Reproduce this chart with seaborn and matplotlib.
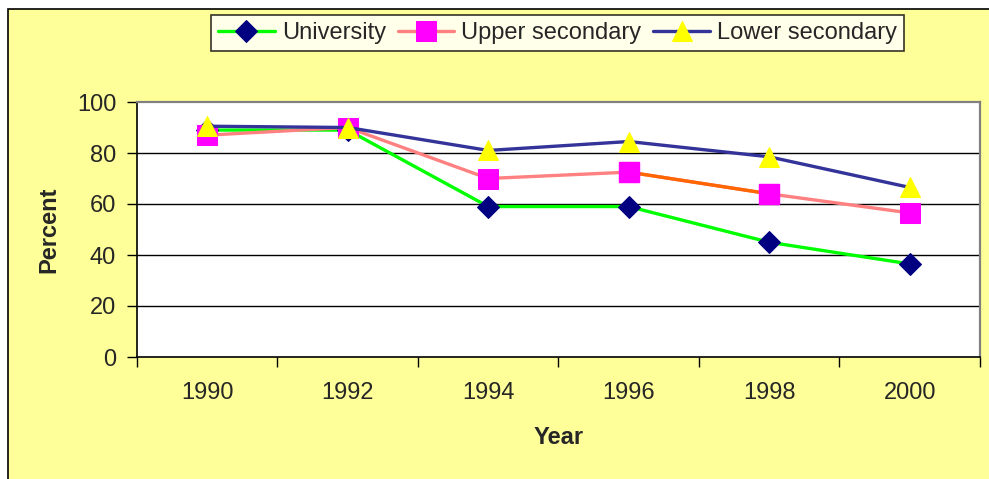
import numpy as np
import pandas as pd
import matplotlib
matplotlib.use("Agg")
import matplotlib.pyplot as plt
from matplotlib.patches import Rectangle
import seaborn as sns

# data
years = [1990, 1992, 1994, 1996, 1998, 2000]
university = [89, 89, 59, 59, 45, 36.5]
upper_secondary = [87, 90, 70, 72.5, 64, 56.5]
lower_secondary = [90.5, 90, 81, 84.5, 78.5, 66.5]

sns.set_style("white")
plt.rcParams['font.family'] = ['Liberation Sans', 'DejaVu Sans']

fig = plt.figure(figsize=(9.89, 4.79), dpi=100, facecolor='white')
# yellow chart area with black frame (left/top visible)
bg = Rectangle((8/989, -0.05), 1.1, 1 - 9/479 + 0.05, transform=fig.transFigure,
               facecolor='#FFFF99', edgecolor='black', linewidth=1.2, zorder=-10)
fig.add_artist(bg)

ax = fig.add_axes([137/989, (479-357)/479, (980-137)/989, (357-102)/479])
ax.set_facecolor('white')

df = pd.DataFrame({'Year': years, 'University': university,
                   'Upper secondary': upper_secondary,
                   'Lower secondary': lower_secondary})

sns.lineplot(data=df, x='Year', y='University', ax=ax, color='#00FF00', lw=2.4,
             marker='D', markersize=11, markerfacecolor='#000080',
             markeredgecolor='#000080', errorbar=None, label='University', zorder=3)
sns.lineplot(data=df, x='Year', y='Upper secondary', ax=ax, color='#FF8080', lw=2.4,
             marker='s', markersize=15, markerfacecolor='#FF00FF',
             markeredgecolor='#FF00FF', errorbar=None, label='Upper secondary', zorder=4)
# one segment drawn in orange in the original
seg = df.iloc[3:5]
sns.lineplot(data=seg, x='Year', y='Upper secondary', ax=ax, color='#FF6600', lw=2.4,
             errorbar=None, zorder=4.1)
ax.plot(seg['Year'], seg['Upper secondary'], ls='none', marker='s', ms=15,
        mfc='#FF00FF', mec='#FF00FF', zorder=4.2)
sns.lineplot(data=df, x='Year', y='Lower secondary', ax=ax, color='#333399', lw=2.4,
             marker='^', markersize=15, markerfacecolor='#FFFF00',
             markeredgecolor='#FFFF00', errorbar=None, label='Lower secondary', zorder=5)

ax.set_xlim(1989, 2001)
ax.set_ylim(0, 100)
ax.set_yticks([0, 20, 40, 60, 80, 100])
ax.set_xticks(np.arange(1989, 2002, 2))
ax.set_xticklabels([])
ax.set_xticks(years, minor=True)
ax.set_xticklabels([str(y) for y in years], minor=True)
ax.tick_params(axis='x', which='major', direction='out', length=7, width=1, color='black', bottom=True)
ax.tick_params(axis='x', which='minor', length=0, pad=18, labelsize=17)
ax.tick_params(axis='y', direction='out', length=7, width=1, color='black', left=True,
               pad=8, labelsize=17)

for y in [20, 40, 60, 80]:
    ax.axhline(y, color='black', lw=1, zorder=1)
for s in ['top', 'right']:
    ax.spines[s].set_color('#808080')
    ax.spines[s].set_linewidth(1.6)
for s in ['left', 'bottom']:
    ax.spines[s].set_color('black')
    ax.spines[s].set_linewidth(1.2)

ax.set_xlabel('Year', fontsize=17, fontweight='bold', labelpad=16)
ax.set_ylabel('Percent', fontsize=17, fontweight='bold', labelpad=12)

handles, labels = ax.get_legend_handles_labels()
ax.legend_.remove()
leg = fig.legend(handles, labels, loc='upper center', bbox_to_anchor=(557.5/989, 1 - 15/479),
                 ncol=3, fontsize=17, frameon=True, fancybox=False, edgecolor='black',
                 borderpad=0.3, handlelength=2.4, handletextpad=0.3, columnspacing=0.5,
                 borderaxespad=0)
leg.get_frame().set_linewidth(1.2)

fig.savefig('out.png', dpi=100, facecolor='white')
